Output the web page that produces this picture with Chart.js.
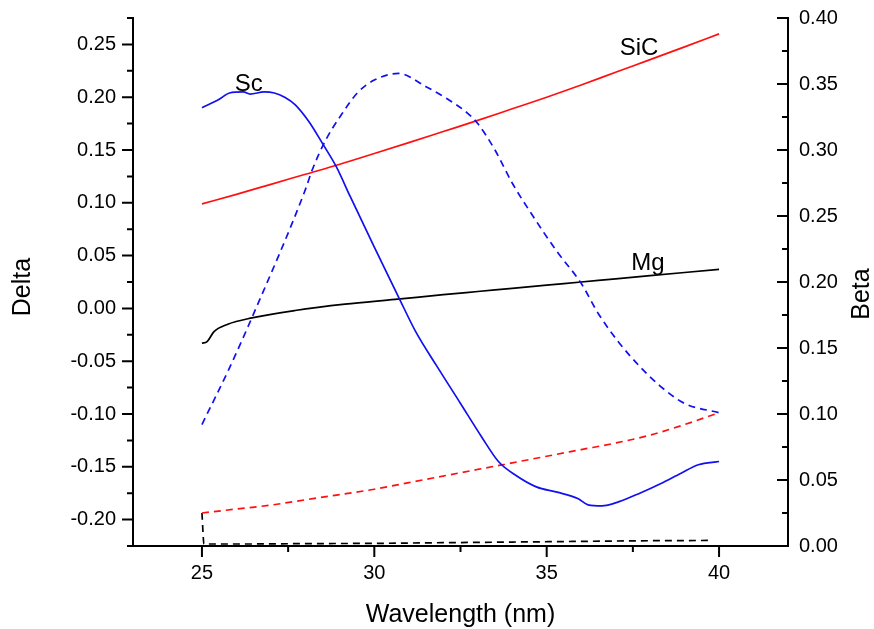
<!DOCTYPE html>
<html>
<head>
<meta charset="utf-8">
<script src="https://cdn.jsdelivr.net/npm/chart.js@4.4.1/dist/chart.umd.min.js"></script>
<style>
  body { margin: 0; background: #fff; }
  #wrap { width: 874px; height: 629px; }
</style>
</head>
<body>
<div id="wrap"><canvas id="chart" width="874" height="629"></canvas></div>
<script>
// Sc (blue)
const scWl    = [25.0, 25.5, 25.8, 26.2, 26.4, 26.8, 27.1, 27.4, 27.7, 28.1, 28.5, 28.9, 29.3, 30.0, 30.7, 31.2, 31.8, 32.5, 33.1, 33.6, 34.1, 34.7, 35.3, 35.9, 36.2, 36.6, 37.1, 37.7, 38.3, 38.9, 39.4, 40.0];
const scDelta = [0.190, 0.198, 0.204, 0.205, 0.203, 0.205, 0.204, 0.200, 0.193, 0.177, 0.156, 0.134, 0.106, 0.058, 0.011, -0.022, -0.054, -0.090, -0.121, -0.145, -0.158, -0.169, -0.174, -0.180, -0.186, -0.187, -0.183, -0.175, -0.166, -0.156, -0.148, -0.145];
const scBetaWl = [25.0, 25.8, 26.5, 28.0, 28.2, 28.6, 29.0, 29.5, 30.0, 30.7, 31.5, 32.1, 32.7, 33.0, 33.5, 34.0, 34.6, 35.3, 36.0, 36.5, 37.1, 37.7, 38.3, 39.0, 40.0];
const scBeta   = [0.092, 0.135, 0.176, 0.270, 0.285, 0.308, 0.325, 0.343, 0.353, 0.358, 0.348, 0.339, 0.328, 0.320, 0.300, 0.275, 0.250, 0.223, 0.199, 0.176, 0.154, 0.136, 0.121, 0.108, 0.101];

// SiC (red)
const sicWl    = [25, 26, 27, 28, 29, 30, 31, 32, 33, 34, 35, 36, 37, 38, 39, 40];
const sicDelta = [0.099, 0.108, 0.1175, 0.127, 0.1365, 0.1467, 0.157, 0.1675, 0.178, 0.189, 0.200, 0.2115, 0.2236, 0.2356, 0.2477, 0.260];
const sicBeta  = [0.025, 0.028, 0.031, 0.035, 0.039, 0.043, 0.048, 0.053, 0.058, 0.063, 0.068, 0.073, 0.078, 0.084, 0.092, 0.101];

// Mg (black)
const mgWl    = [25.0, 25.15, 25.35, 25.75, 26.45, 27.7, 29.15, 30.6, 32, 33, 34, 35, 36, 37, 38, 39, 40];
const mgDelta = [-0.033, -0.0315, -0.022, -0.015, -0.009, -0.002, 0.004, 0.0085, 0.013, 0.016, 0.019, 0.022, 0.025, 0.028, 0.031, 0.034, 0.037];
const mgBetaWl = [25.0, 25.06, 26, 28, 30, 32, 34, 36, 38, 39.8];
const mgBeta   = [0.025, 0.0015, 0.0015, 0.0018, 0.002, 0.0025, 0.003, 0.0035, 0.004, 0.0042];

// curve labels: [text, wavelength, delta]
const curveLabels = [['Sc', 26.36, 0.2062], ['SiC', 37.68, 0.240], ['Mg', 37.94, 0.0364]];

const FONT = 'Liberation Sans, Arial, sans-serif';

function pts(xs, ys) {
  return xs.map((x, i) => ({x: x, y: ys[i]}));
}

function series(label, xs, ys, color, axis, dashed) {
  return {
    label: label,
    data: pts(xs, ys),
    borderColor: color,
    borderWidth: 1.7,
    borderDash: dashed ? [7, 5] : [],
    pointRadius: 0,
    fill: false,
    cubicInterpolationMode: 'monotone',
    yAxisID: axis
  };
}

function fmtY(v) {
  const k = Math.round(v * 1000);
  return k % 50 === 0 ? (k / 1000).toFixed(2) : '';
}

// draws tick marks (major + minor), axis titles and the curve labels
const decorations = {
  id: 'decorations',
  afterDraw(chart) {
    const ctx = chart.ctx;
    const sx = chart.scales.x, sy = chart.scales.y, sy1 = chart.scales.y1;
    const area = chart.chartArea;
    ctx.save();
    ctx.strokeStyle = '#000';
    ctx.lineWidth = 2;
    ctx.beginPath();
    sx.ticks.forEach(t => {
      const px = sx.getPixelForValue(t.value);
      const len = Math.round(t.value * 10) % 50 === 0 ? 11 : 6;
      ctx.moveTo(px, area.bottom);
      ctx.lineTo(px, area.bottom + len);
    });
    sy.ticks.forEach(t => {
      const py = sy.getPixelForValue(t.value);
      const len = fmtY(t.value) ? 11 : 6;
      ctx.moveTo(area.left, py);
      ctx.lineTo(area.left - len, py);
    });
    sy1.ticks.forEach(t => {
      const py = sy1.getPixelForValue(t.value);
      const len = fmtY(t.value) ? 11 : 6;
      ctx.moveTo(area.right, py);
      ctx.lineTo(area.right - len, py);
    });
    ctx.stroke();

    ctx.fillStyle = '#000';
    ctx.font = '24px ' + FONT;
    ctx.textAlign = 'center';
    ctx.textBaseline = 'alphabetic';
    curveLabels.forEach(l => {
      ctx.fillText(l[0], sx.getPixelForValue(l[1]), sy.getPixelForValue(l[2]));
    });

    ctx.font = '25px ' + FONT;
    ctx.fillText('Wavelength (nm)', (area.left + area.right) / 2, 622);
    ctx.textBaseline = 'middle';
    ctx.save();
    ctx.translate(23, 287);
    ctx.rotate(-Math.PI / 2);
    ctx.fillText('Delta', 0, 0);
    ctx.restore();
    ctx.save();
    ctx.translate(862, 294);
    ctx.rotate(-Math.PI / 2);
    ctx.fillText('Beta', 0, 0);
    ctx.restore();
    ctx.restore();
  }
};

const axisBorder = {display: true, color: '#000', width: 2};
const noGrid = {display: true, drawOnChartArea: false, drawTicks: false};

function fitY(width) {
  return s => { s.width = width; s.paddingTop = 0; s.paddingBottom = 0; };
}

new Chart(document.getElementById('chart'), {
  type: 'line',
  data: {
    datasets: [
      series('Sc Delta', scWl, scDelta, '#1010f0', 'y', false),
      series('Sc Beta', scBetaWl, scBeta, '#1010f0', 'y1', true),
      series('SiC Delta', sicWl, sicDelta, '#ff1010', 'y', false),
      series('SiC Beta', sicWl, sicBeta, '#ff1010', 'y1', true),
      series('Mg Delta', mgWl, mgDelta, '#000000', 'y', false),
      series('Mg Beta', mgBetaWl, mgBeta, '#000000', 'y1', true)
    ]
  },
  options: {
    responsive: false,
    animation: false,
    devicePixelRatio: 1,
    layout: {padding: {top: 18, left: 0, right: 0, bottom: 0}},
    plugins: {legend: {display: false}, tooltip: {enabled: false}},
    scales: {
      x: {
        type: 'linear',
        min: 23, max: 42,
        border: axisBorder,
        grid: noGrid,
        ticks: {
          stepSize: 2.5, includeBounds: false, autoSkip: false, maxRotation: 0,
          padding: 15, color: '#000', font: {family: FONT, size: 20},
          callback: v => Math.round(v * 10) % 50 === 0 ? String(Math.round(v)) : ''
        },
        afterFit: s => { s.height = 83; s.paddingLeft = 0; s.paddingRight = 0; }
      },
      y: {
        type: 'linear', position: 'left',
        min: -0.225, max: 0.275,
        border: axisBorder,
        grid: noGrid,
        ticks: {
          stepSize: 0.025, autoSkip: false, padding: 17, color: '#000',
          font: {family: FONT, size: 20}, callback: fmtY
        },
        afterFit: fitY(133)
      },
      y1: {
        type: 'linear', position: 'right',
        min: 0, max: 0.4,
        border: axisBorder,
        grid: noGrid,
        ticks: {
          stepSize: 0.025, autoSkip: false, padding: 11, color: '#000',
          font: {family: FONT, size: 20}, callback: fmtY
        },
        afterFit: fitY(86)
      }
    }
  },
  plugins: [decorations]
});
</script>
</body>
</html>
